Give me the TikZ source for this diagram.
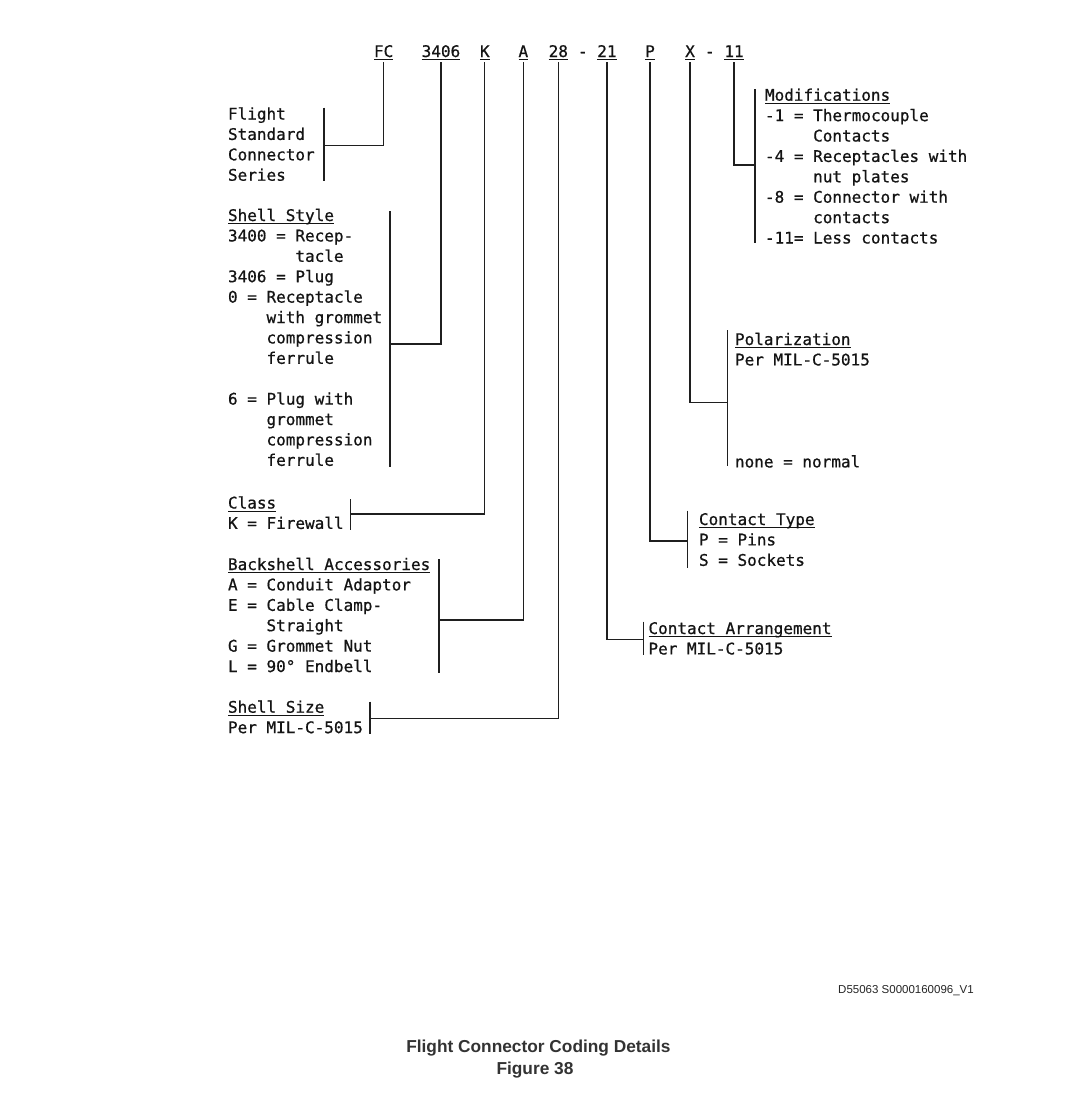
\documentclass[tikz,border=0pt]{standalone}
\usepackage{fontspec}
\newfontfamily\mono[RawFeature={embolden=0.7}]{DejaVu Sans Mono}
\newfontfamily\capfont{Liberation Sans}
\newcommand\ulx[1]{\leavevmode\setbox0=\hbox{#1}\rlap{\rule[-3.2pt]{\wd0}{1.1pt}}\box0}
\newcommand\blk[1]{\parbox[t]{300pt}{\raggedright\mono\fontsize{16}{20.4}\selectfont\leavevmode #1}}
\newcommand\ind[1]{\phantom{#1}}
\tikzset{
  code/.style={anchor=base west, inner sep=0pt, outer sep=0pt, text=black!92, font=\mono\fontsize{16}{20.4}\selectfont},
  block/.style={anchor=base west, inner sep=0pt, outer sep=0pt, text=black!92},
  conn/.style={line width=1.3pt, black!88},
  brk/.style={line width=1.3pt, black!88},
}
\begin{document}
\begin{tikzpicture}[x=1pt,y=-1pt]
\useasboundingbox[fill=white] (0,0) rectangle (1079,1111);

% code line
\node[code] (fc) at (374,57) {\ulx{FC}};
\node[code] (c3406) at (421.7,57) {\ulx{3406}};
\node[code] (ck) at (480,57) {\ulx{K}};
\node[code] (ca) at (518.5,57) {\ulx{A}};
\node[code] (c28) at (548.7,57) {\ulx{28}};
\node[code] (d1) at (578,57) {-};
\node[code] (c21) at (597.3,57) {\ulx{21}};
\node[code] (cp) at (645.2,57) {\ulx{P}};
\node[code] (cx) at (685.2,57) {\ulx{X}};
\node[code] (d2) at (705,57) {-};
\node[code] (c11) at (724.4,57) {\ulx{11}};

% text blocks
\node[block] (flight) at (228,119.5) {\blk{Flight\\Standard\\Connector\\Series}};
\node[block] (shell) at (228,221) {\blk{\ulx{Shell Style}\\
3400 = Recep-\\
\ind{3400 = }tacle\\
3406 = Plug\\
0 = Receptacle\\
\ind{0 = }with grommet\\
\ind{0 = }compression\\
\ind{0 = }ferrule\\[20.4pt]
6 = Plug with\\
\ind{6 = }grommet\\
\ind{6 = }compression\\
\ind{6 = }ferrule}};
\node[block] (class) at (228,508.5) {\blk{\ulx{Class}\\K = Firewall}};
\node[block] (back) at (228,570) {\blk{\ulx{Backshell Accessories}\\
A = Conduit Adaptor\\
E = Cable Clamp-\\
\ind{E = }Straight\\
G = Grommet Nut\\
L = 90° Endbell}};
\node[block] (size) at (228,712.7) {\blk{\ulx{Shell Size}\\Per MIL-C-5015}};
\node[block] (arr) at (648.5,634) {\blk{\ulx{Contact Arrangement}\\Per MIL-C-5015}};
\node[block] (ctype) at (699,525) {\blk{\ulx{Contact Type}\\P = Pins\\S = Sockets}};
\node[block] (pol) at (735,345) {\blk{\ulx{Polarization}\\Per MIL-C-5015\\[81.6pt]none = normal}};
\node[block] (mods) at (765,100.7) {\blk{\ulx{Modifications}\\
-1 = Thermocouple\\
\ind{-1 = }Contacts\\
-4 = Receptacles with\\
\ind{-4 = }nut plates\\
-8 = Connector with\\
\ind{-8 = }contacts\\
-11= Less contacts}};

% bracket coordinates
\coordinate (b1t) at (324,107.5); \coordinate (b1b) at (324,181);   \coordinate (j1) at (324,145.5);
\coordinate (b2t) at (390,211);   \coordinate (b2b) at (390,467);   \coordinate (j2) at (390,344);
\coordinate (b3t) at (350.5,499); \coordinate (b3b) at (350.5,530); \coordinate (j3) at (350.5,514);
\coordinate (b4t) at (439,559);   \coordinate (b4b) at (439,673);   \coordinate (j4) at (439,620);
\coordinate (b5t) at (370,701.5); \coordinate (b5b) at (370,733.5); \coordinate (j5) at (370,718.3);
\coordinate (b6t) at (643.5,621.5); \coordinate (b6b) at (643.5,655); \coordinate (j6) at (643.5,639.5);
\coordinate (b7t) at (687.5,510.5); \coordinate (b7b) at (687.5,567.5); \coordinate (j7) at (687.5,541);
\coordinate (b8t) at (727.3,330); \coordinate (b8b) at (727.3,466); \coordinate (j8) at (727.3,402.3);
\coordinate (b9t) at (755,89);    \coordinate (b9b) at (755,243);   \coordinate (j9) at (755,165);

\foreach \i in {1,...,9}{\draw[brk] (b\i t) -- (b\i b);}

% connectors
\draw[conn] ([yshift=-2pt]fc.south) |- (j1);
\draw[conn] ([yshift=-2pt]c3406.south) |- (j2);
\draw[conn] ([yshift=-2pt]ck.south) |- (j3);
\draw[conn] ([yshift=-2pt]ca.south) |- (j4);
\draw[conn] ([yshift=-2pt]c28.south) |- (j5);
\draw[conn] ([yshift=-2pt]c21.south) |- (j6);
\draw[conn] ([yshift=-2pt]cp.south) |- (j7);
\draw[conn] ([yshift=-2pt]cx.south) |- (j8);
\draw[conn] ([yshift=-2pt]c11.south) |- (j9);

% captions
\node[anchor=base east, inner sep=0pt, text=black!85, font=\capfont\fontsize{11.5}{13}\selectfont] (ref) at (974,993) {D55063 S0000160096\_V1};
\node[anchor=base, inner sep=0pt, text=black!80, font=\capfont\bfseries\fontsize{17.3}{20}\selectfont] (title) at (538.4,1052.7) {Flight Connector Coding Details};
\node[anchor=base, inner sep=0pt, text=black!80, font=\capfont\bfseries\fontsize{17.3}{20}\selectfont] (fig) at (535,1074) {Figure 38};
\end{tikzpicture}
\end{document}
